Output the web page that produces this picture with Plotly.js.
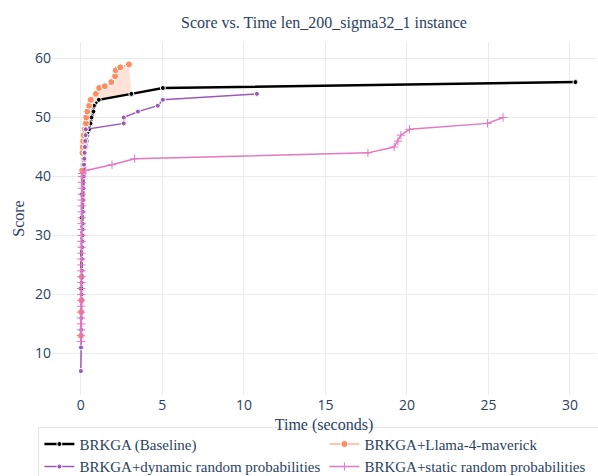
<!DOCTYPE html>
<html>
<head>
<meta charset="utf-8">
<script src="https://cdn.plot.ly/plotly-3.0.1.min.js"></script>
<style>html,body{margin:0;padding:0;background:#fff;}#chart{width:598px;height:476px;}</style>
</head>
<body>
<div id="chart"></div>
<script>
// Data
const baselineTime  = [0.02, 0.04, 0.06, 0.08, 0.10, 0.13, 0.16, 0.20, 0.30, 0.35, 0.38, 0.40, 0.50, 0.59, 0.65, 0.77, 0.80, 1.10, 3.10, 5.03, 30.34];
const baselineScore = [21, 28, 33, 37, 40, 42, 43, 44, 45, 46, 47, 47.5, 48, 49, 50, 51, 52, 53, 54, 55, 56];

const llamaTime  = [0.01, 0.02, 0.03, 0.05, 0.08, 0.10, 0.12, 0.14, 0.17, 0.24, 0.31, 0.33, 0.40, 0.51, 0.61, 0.92, 1.12, 1.47, 1.87, 2.10, 2.14, 2.42, 2.95];
const llamaScore = [13, 17, 19, 23, 41, 44, 45, 46, 47, 48, 49, 50, 51, 52, 53, 54, 55, 55.3, 56, 57, 58, 58.5, 59];

const dynamicTime  = [0.00, 0.01, 0.02, 0.03, 0.04, 0.05, 0.06, 0.07, 0.08, 0.09, 0.10, 0.11, 0.12, 0.13, 0.14, 0.15, 0.17, 0.19, 0.21, 0.23, 0.25, 0.27, 0.29, 0.30, 2.63, 2.63, 3.50, 4.72, 5.03, 10.80];
const dynamicScore = [7, 11, 14, 16, 20, 22, 24, 26, 28, 29, 30, 31, 32, 34, 36, 38, 40, 42, 43, 44, 45, 46, 47, 48, 49, 50, 51, 52, 53, 54];

const staticTime  = [0.00, 0.00, 0.00, 0.01, 0.01, 0.01, 0.01, 0.02, 0.02, 0.02, 0.02, 0.03, 0.03, 0.03, 0.03, 0.04, 0.04, 0.04, 0.04, 0.05, 0.05, 0.05, 0.05, 0.06, 0.06, 0.06, 0.07, 0.07, 0.08, 0.08, 0.30, 1.91, 3.30, 17.61, 19.22, 19.45, 19.63, 20.16, 24.94, 25.90];
const staticScore = [12, 13, 14, 15, 16, 17, 18, 19, 20, 21, 22, 23, 24, 25, 26, 27, 28, 29, 30, 31, 32, 33, 34, 35, 36, 37, 38, 39, 40, 40.5, 41, 42, 43, 44, 45, 46, 47, 48, 49, 50];

const seriesNames = ['BRKGA (Baseline)', 'BRKGA+Llama-4-maverick', 'BRKGA+dynamic random probabilities', 'BRKGA+static random probabilities'];

// shaded region between Llama and Baseline
const fillX = [], fillY = [];
llamaTime.forEach((t, i) => { if (llamaScore[i] >= 48) { fillX.push(t); fillY.push(llamaScore[i]); } });
for (let i = baselineTime.length - 1; i >= 0; i--) {
  if (baselineScore[i] >= 48 && baselineTime[i] <= 3.1) { fillX.push(baselineTime[i]); fillY.push(baselineScore[i]); }
}

const serif = 'Liberation Serif, Times New Roman, serif';
const txt = '#2a3f5f';

const traces = [
  {x: fillX, y: fillY, mode: 'lines', fill: 'toself', fillcolor: 'rgba(252,141,98,0.25)',
   line: {width: 0}, showlegend: false, hoverinfo: 'skip'},
  {x: baselineTime, y: baselineScore, name: seriesNames[0], mode: 'lines+markers',
   line: {color: '#000000', width: 2.5}, marker: {color: '#000000', size: 5, line: {color: '#ffffff', width: 1}}},
  {x: llamaTime, y: llamaScore, name: seriesNames[1], mode: 'lines+markers',
   line: {color: '#fc8d62', width: 1}, marker: {color: '#fc8d62', size: 7, line: {color: '#ffffff', width: 1}}},
  {x: dynamicTime, y: dynamicScore, name: seriesNames[2], mode: 'lines+markers',
   line: {color: '#9b59b6', width: 1.5}, marker: {color: '#9b59b6', size: 5, line: {color: '#ffffff', width: 1}}},
  {x: staticTime, y: staticScore, name: seriesNames[3], mode: 'lines+markers',
   line: {color: '#e377c2', width: 1.5}, marker: {symbol: 'cross-thin', color: '#e377c2', size: 6, line: {color: '#e377c2', width: 1}}}
];

const layout = {
  width: 598, height: 476,
  paper_bgcolor: '#ffffff', plot_bgcolor: '#ffffff',
  margin: {l: 52, r: 2, t: 42, b: 81, autoexpand: false},
  title: {text: 'Score vs. Time len_200_sigma32_1 instance', x: 0.5, xref: 'paper', xanchor: 'center', y: 0.965, yref: 'container',
          font: {family: serif, size: 16, color: txt}},
  xaxis: {range: [-1.77, 31.6], tickvals: [0, 5, 10, 15, 20, 25, 30], showgrid: true, gridcolor: '#ebebeb', gridwidth: 1,
          zeroline: false, showline: false, ticks: '', tickfont: {family: 'Open Sans, sans-serif', size: 14, color: txt},
          title: {text: 'Time (seconds)', standoff: 5, font: {family: serif, size: 16, color: txt}}},
  yaxis: {range: [2.94, 62.8], tickvals: [10, 20, 30, 40, 50, 60], showgrid: true, gridcolor: '#ebebeb', gridwidth: 1,
          zeroline: false, showline: false, ticks: '', tickfont: {family: 'Open Sans, sans-serif', size: 14, color: txt},
          title: {text: 'Score', standoff: 6, font: {family: serif, size: 16, color: txt}}},
  legend: {orientation: 'h', x: -0.025, xanchor: 'left', y: -0.09, yanchor: 'top', itemwidth: 30,
           entrywidth: 240, entrywidthmode: 'pixels',
           bordercolor: '#e5e5e5', borderwidth: 1, bgcolor: 'rgba(255,255,255,0)',
           font: {family: serif, size: 15, color: txt}}
};

Plotly.newPlot('chart', traces, layout, {displayModeBar: false, staticPlot: true});
</script>
</body>
</html>
